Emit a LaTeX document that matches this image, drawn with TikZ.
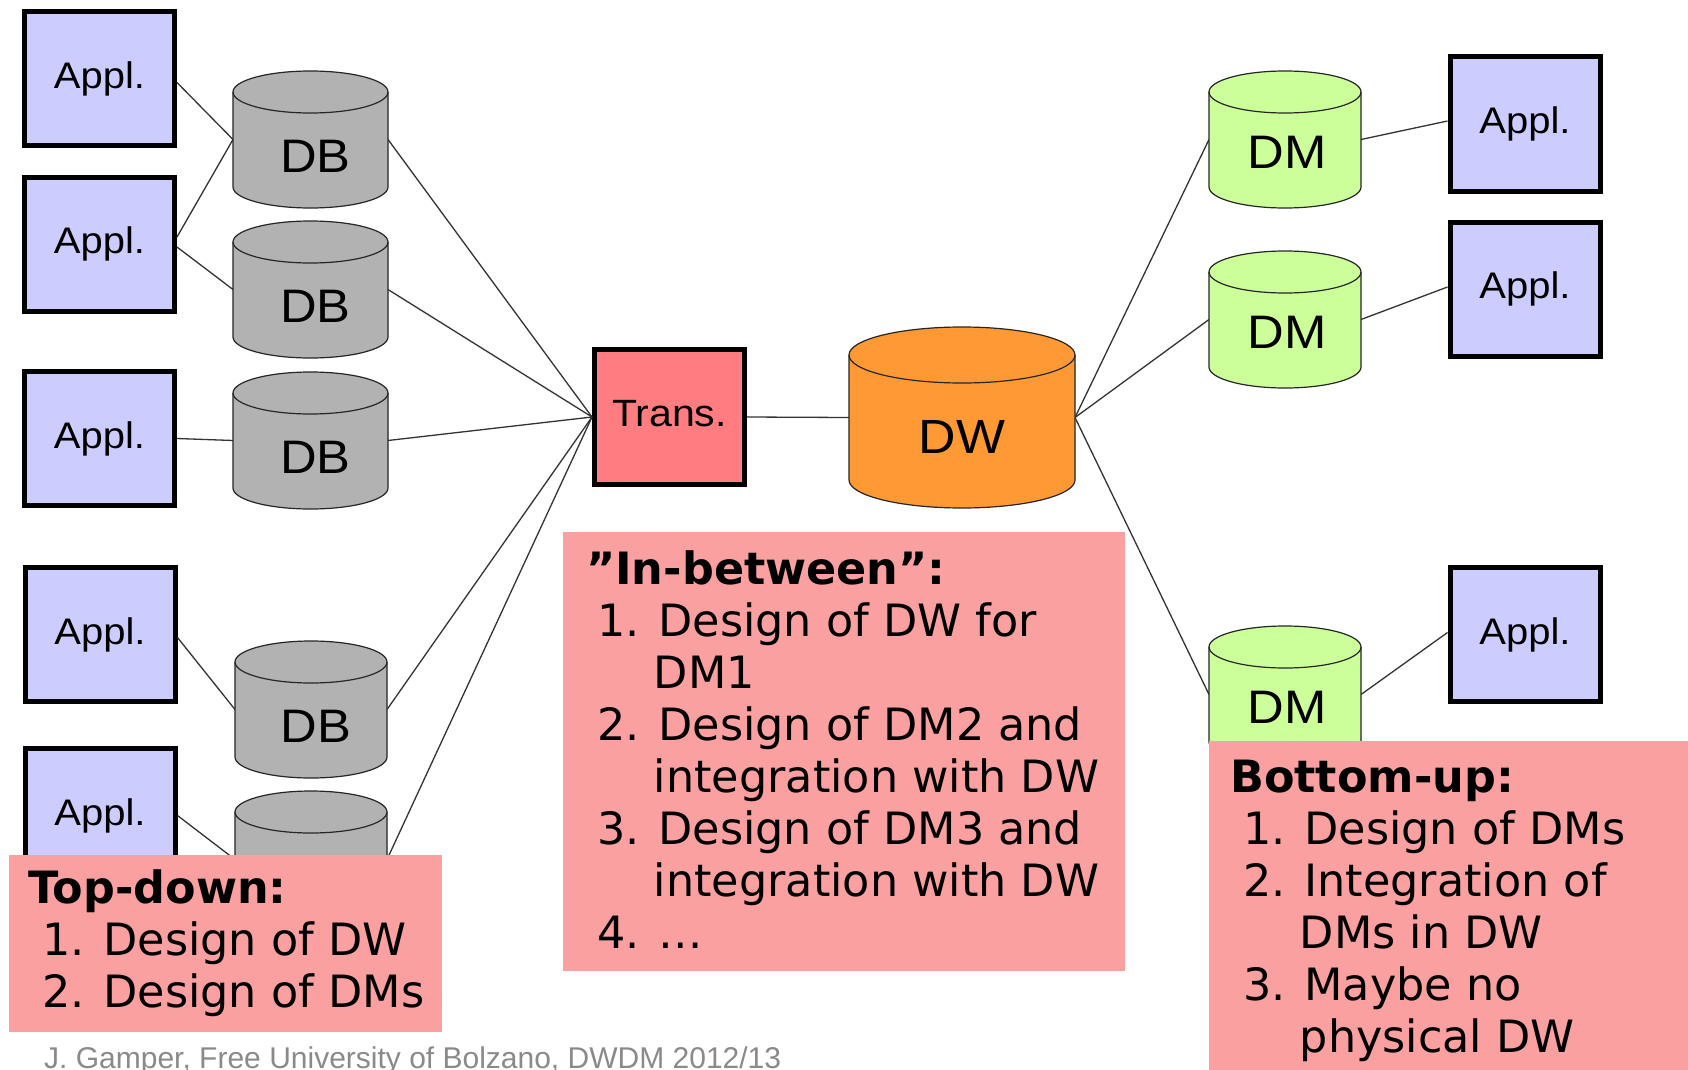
\documentclass[tikz,border=0pt]{standalone}
\usepackage{fontspec}
\setmainfont{DejaVu Sans}
\newfontfamily\arialfont[FakeStretch=1.08]{Liberation Sans}
\newfontfamily\footfont{Liberation Sans}
\usetikzlibrary{calc}

\definecolor{applblue}{RGB}{204,204,255}
\definecolor{dbgray}{RGB}{178,178,178}
\definecolor{dmgreen}{RGB}{204,255,153}
\definecolor{dworange}{RGB}{255,153,51}
\definecolor{transred}{RGB}{255,124,128}
\definecolor{notepink}{RGB}{250,160,160}
\definecolor{footgray}{RGB}{138,138,138}

\tikzset{
  appl/.style={rectangle, draw=black, line width=5pt, fill=applblue,
    minimum width=150pt, minimum height=134pt, inner sep=0pt,
    font=\arialfont\fontsize{37}{37}\selectfont, text height=27pt, text depth=7.5pt},
  transbox/.style={rectangle, draw=black, line width=5pt, fill=transred,
    minimum width=150pt, minimum height=135pt, inner sep=0pt,
    font=\arialfont\fontsize{38}{38}\selectfont, text height=27pt, text depth=7.5pt},
  cylframe/.style={rectangle, draw=none, inner sep=0pt, outer sep=0pt},
  cyltext/.style={inner sep=0pt, font=\arialfont\fontsize{#1}{#1}\selectfont},
  cylline/.style={draw=black!85, line width=1.2pt},
  link/.style={draw=black!80, line width=1.3pt},
  notebox/.style={rectangle, fill=notepink, draw=none, inner sep=0pt, outer sep=0pt, anchor=north west},
  notetext/.style={inner sep=0pt, anchor=base west, font=\fontsize{44.5}{52}\selectfont},
}

% vertical cylinder filling the frame of node #1, lid half-height #2, colour #3
\newcommand\drawcyl[3]{%
  \begin{scope}[shift={(2,-3)}]
    \fill[black!28] let \p1=(#1.north west), \p2=(#1.south east),
      \p3=($(#1.north east)-(#1.north west)$) in
      (\x1,\y1-#2pt) -- (\x1,\y2+#2pt)
      arc[start angle=180, end angle=360, x radius={0.5*\x3}, y radius=#2pt]
      -- (\x2,\y1-#2pt)
      arc[start angle=0, end angle=180, x radius={0.5*\x3}, y radius=#2pt] -- cycle;
  \end{scope}
  \draw[cylline, fill=#3] let \p1=(#1.north west), \p2=(#1.south east),
    \p3=($(#1.north east)-(#1.north west)$) in
    (\x1,\y1-#2pt) -- (\x1,\y2+#2pt)
    arc[start angle=180, end angle=360, x radius={0.5*\x3}, y radius=#2pt]
    -- (\x2,\y1-#2pt)
    arc[start angle=0, end angle=180, x radius={0.5*\x3}, y radius=#2pt] -- cycle;
  \draw[cylline] let \p1=(#1.north west), \p3=($(#1.north east)-(#1.north west)$) in
    (\x1,\y1-#2pt) arc[start angle=180, end angle=360, x radius={0.5*\x3}, y radius=#2pt];
}

\begin{document}
\begin{tikzpicture}[x=1pt,y=1pt]
\useasboundingbox (0,0) rectangle (1688,-1070);
\fill[white] (0,0) rectangle (1688,-1070);

% applications
\node[appl] (aL1) at (99.5,-78.5) {Appl.};
\node[appl] (aL2) at (99.5,-244) {Appl.};
\node[appl] (aL3) at (99.5,-438.5) {Appl.};
\node[appl] (aL4) at (100,-634.5) {Appl.};
\node[appl] (aL5) at (100,-815.5) {Appl.};
\node[appl] (aR1) at (1525,-124) {Appl.};
\node[appl] (aR2) at (1525,-289) {Appl.};
\node[appl] (aR3) at (1525,-634.5) {Appl.};

% frames of the databases, the warehouse and the marts
\node[cylframe, minimum width=155pt, minimum height=137pt] (db1) at (310.5,-139.5) {};
\node[cylframe, minimum width=155pt, minimum height=137pt] (db2) at (310.5,-289.5) {};
\node[cylframe, minimum width=155pt, minimum height=137pt] (db3) at (310.5,-440.5) {};
\node[cylframe, minimum width=152pt, minimum height=137pt] (db4) at (311,-709.5) {};
\node[cylframe, minimum width=152pt, minimum height=137pt] (db5) at (311,-859.5) {};
\node[cylframe, minimum width=226pt, minimum height=181pt] (dw) at (962,-417.5) {};
\node[cylframe, minimum width=152pt, minimum height=137pt] (dm1) at (1285,-139.5) {};
\node[cylframe, minimum width=152pt, minimum height=137pt] (dm2) at (1285,-319.5) {};
\node[cylframe, minimum width=152pt, minimum height=137pt] (dm3) at (1285,-694.5) {};

% transformation step
\node[transbox] (trans) at (669.5,-417) {Trans.};

% connectors
\draw[link] ([yshift=-4]aL1.east) -- (db1.west);
\draw[link] ([yshift=7]aL2.east) -- (db1.west);
\draw[link] ([yshift=-3]aL2.east) -- (db2.west);
\draw[link] (aL3.east) -- (db3.west);
\draw[link] ([yshift=-3]aL4.east) -- (db4.west);
\draw[link] (aL5.east) -- (db5.west);
\foreach \d in {db1,db2,db3,db4,db5} \draw[link] (\d.east) -- (trans.west);
\draw[link] (trans.east) -- (dw.west);
\foreach \d in {dm1,dm2,dm3} \draw[link] (dw.east) -- (\d.west);
\draw[link] (dm1.east) -- ([yshift=3]aR1.west);
\draw[link] (dm2.east) -- ([yshift=2]aR2.west);
\draw[link] (dm3.east) -- ([yshift=2]aR3.west);

% cylinders
\drawcyl{db1}{21}{dbgray}
\drawcyl{db2}{21}{dbgray}
\drawcyl{db3}{21}{dbgray}
\drawcyl{db4}{21}{dbgray}
\drawcyl{db5}{21}{dbgray}
\drawcyl{dw}{28}{dworange}
\drawcyl{dm1}{21}{dmgreen}
\drawcyl{dm2}{21}{dmgreen}
\drawcyl{dm3}{21}{dmgreen}

\node[cyltext=47] (db1t) at ([shift={(5,-17)}]db1.center) {DB};
\node[cyltext=47] (db2t) at ([shift={(5,-17)}]db2.center) {DB};
\node[cyltext=47] (db3t) at ([shift={(5,-17)}]db3.center) {DB};
\node[cyltext=47] (db4t) at ([shift={(5,-17)}]db4.center) {DB};
\node[cyltext=48] (dwt) at ([shift={(0,-19.5)}]dw.center) {DW};
\node[cyltext=47] (dm1t) at ([shift={(2,-13)}]dm1.center) {DM};
\node[cyltext=47] (dm2t) at ([shift={(2,-13)}]dm2.center) {DM};
\node[cyltext=47] (dm3t) at ([shift={(2,-13)}]dm3.center) {DM};

% design strategies
\node[notebox, minimum width=433pt, minimum height=177pt] (tdbox) at (9,-855) {};
\node[notetext] (tdtext) at (28,-903) {\begin{tabular}[t]{@{}l@{}}
  \textbf{Top-down:}\\
  \hspace*{14pt}1. Design of DW\\
  \hspace*{14pt}2. Design of DMs
\end{tabular}};

\node[notebox, minimum width=562pt, minimum height=439pt] (ibbox) at (563,-532) {};
\node[notetext] (ibtext) at (586,-584) {\begin{tabular}[t]{@{}l@{}}
  \textbf{”In-between”:}\\
  \hspace*{11pt}1. Design of DW for\\
  \hspace*{11pt}\hphantom{1.}\ DM1\\
  \hspace*{11pt}2. Design of DM2 and\\
  \hspace*{11pt}\hphantom{2.}\ integration with DW\\
  \hspace*{11pt}3. Design of DM3 and\\
  \hspace*{11pt}\hphantom{3.}\ integration with DW\\
  \hspace*{11pt}4. \dots
\end{tabular}};

\node[notebox, minimum width=490pt, minimum height=340pt] (bubox) at (1209,-741) {};
\node[notetext] (butext) at (1230,-792) {\begin{tabular}[t]{@{}l@{}}
  \textbf{Bottom-up:}\\
  \hspace*{13pt}1. Design of DMs\\
  \hspace*{13pt}2. Integration of\\
  \hspace*{13pt}\hphantom{2.}\ DMs in DW\\
  \hspace*{13pt}3. Maybe no\\
  \hspace*{13pt}\hphantom{3.}\ physical DW
\end{tabular}};

% footer
\node[inner sep=0pt, anchor=base west, text=footgray, font=\footfont\fontsize{30}{30}\selectfont]
  (footer) at (44,-1068) {J. Gamper, Free University of Bolzano, DWDM 2012/13};
\end{tikzpicture}
\end{document}
